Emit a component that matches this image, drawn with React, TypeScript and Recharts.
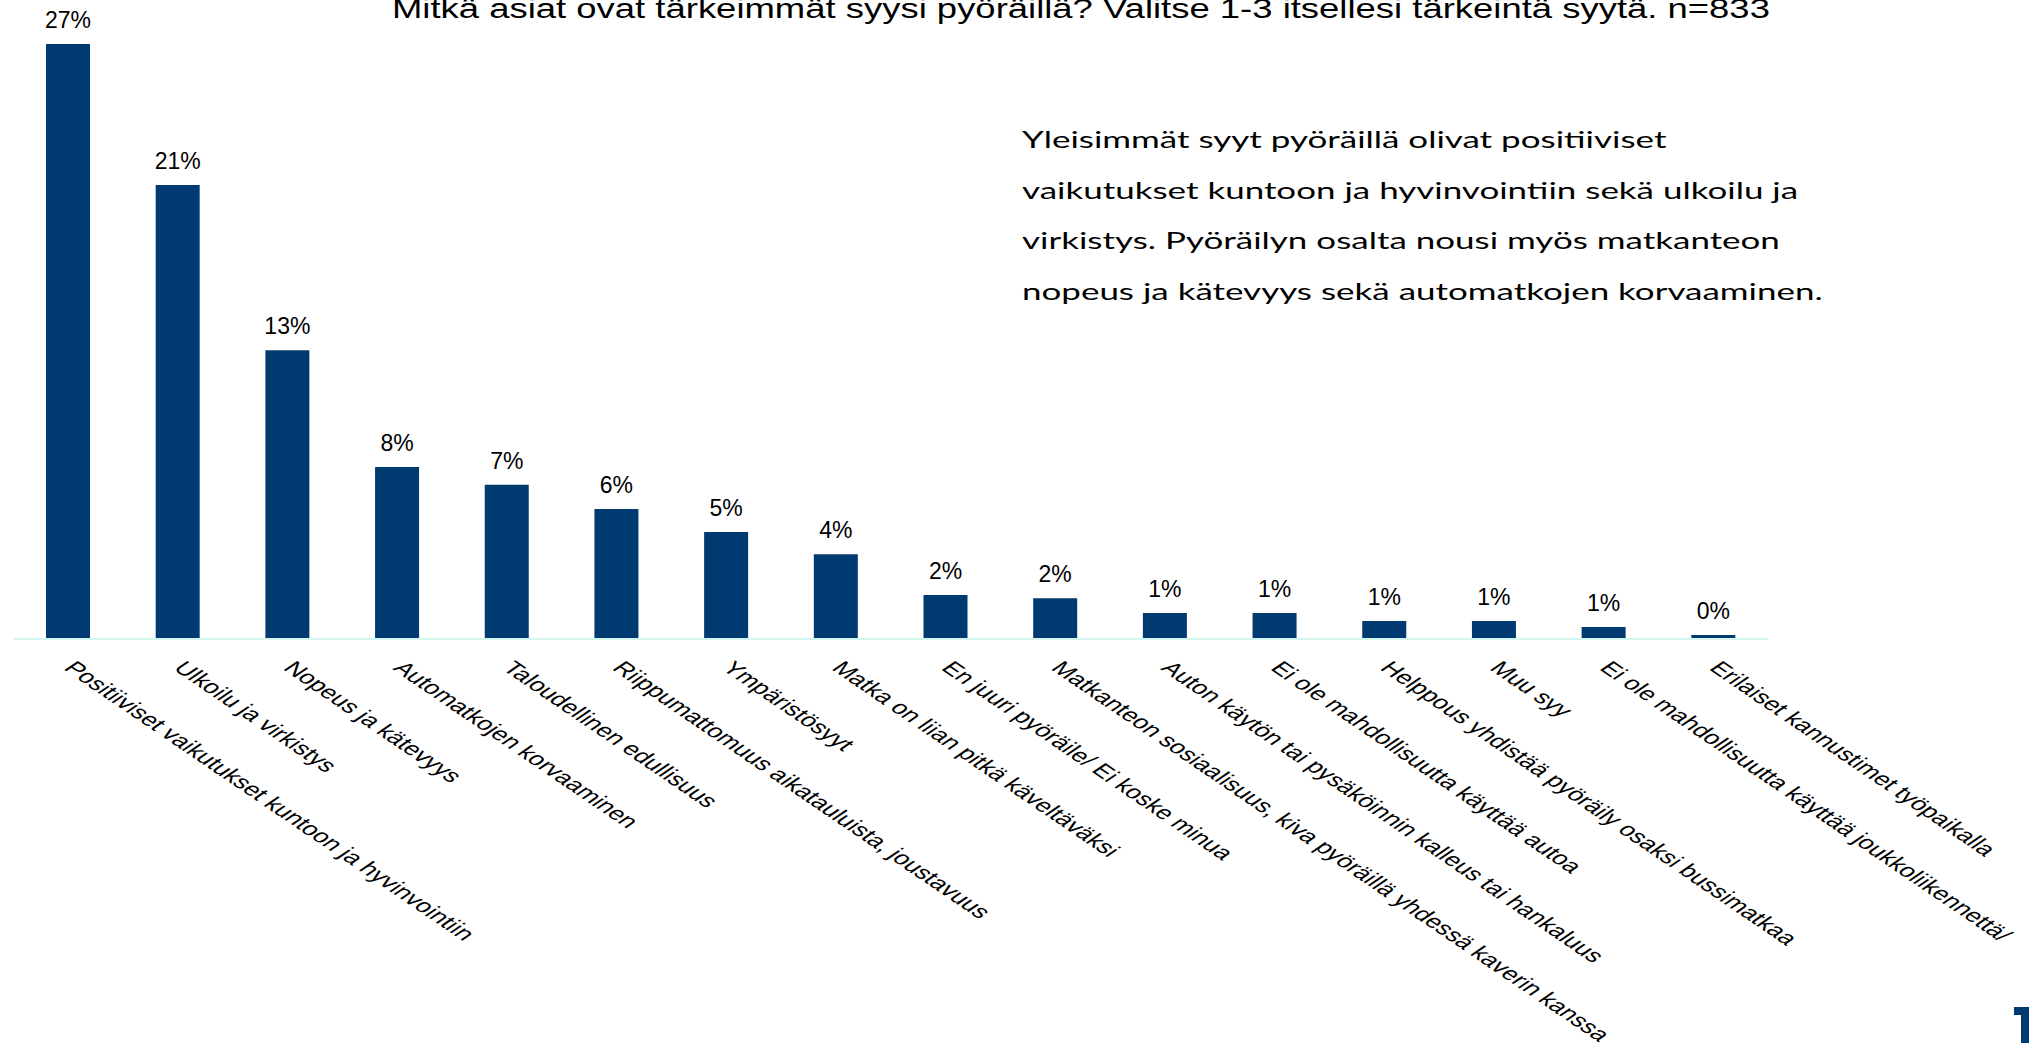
import { BarChart, Bar, XAxis, YAxis, LabelList } from "recharts"

const reasons = [
  "Positiiviset vaikutukset kuntoon ja hyvinvointiin",
  "Ulkoilu ja virkistys",
  "Nopeus ja kätevyys",
  "Automatkojen korvaaminen",
  "Taloudellinen edullisuus",
  "Riippumattomuus aikatauluista, joustavuus",
  "Ympäristösyyt",
  "Matka on liian pitkä käveltäväksi",
  "En juuri pyöräile/ Ei koske minua",
  "Matkanteon sosiaalisuus, kiva pyöräillä yhdessä kaverin kanssa",
  "Auton käytön tai pysäköinnin kalleus tai hankaluus",
  "Ei ole mahdollisuutta käyttää autoa",
  "Helppous yhdistää pyöräily osaksi bussimatkaa",
  "Muu syy",
  "Ei ole mahdollisuutta käyttää joukkoliikennettä/",
  "Erilaiset kannustimet työpaikalla",
]

// share of respondents, %
const shares = [27, 20.6, 13.1, 7.8, 7.0, 5.9, 4.85, 3.85, 2.0, 1.85, 1.18, 1.18, 0.82, 0.82, 0.54, 0.18]

const title = "Mitkä asiat ovat tärkeimmät syysi pyöräillä? Valitse 1-3 itsellesi tärkeintä syytä. n=833"

const note = [
  "Yleisimmät syyt pyöräillä olivat positiiviset",
  "vaikutukset kuntoon ja hyvinvointiin sekä ulkoilu ja",
  "virkistys. Pyöräilyn osalta nousi myös matkanteon",
  "nopeus ja kätevyys sekä automatkojen korvaaminen.",
]

const data = reasons.map((reason, i) => ({ reason, share: shares[i] }))

const arial = "'Liberation Sans', Arial, sans-serif"

// the source picture is stretched sideways, so 45° labels look flatter
function ReasonTick({ x, y, payload }: any) {
  const tx = x - 5
  const ty = y + 30
  return (
    <text
      transform={`translate(${tx}, ${ty}) scale(1.47, 1) rotate(45)`}
      textAnchor="start"
      fontSize={18.7}
      fontFamily={arial}
      fill="#000"
    >
      {payload.value}
    </text>
  )
}

export default function App() {
  return (
    <div style={{ position: "absolute", left: 0, top: 0, width: 2029, height: 1043, background: "#fff", overflow: "hidden" }}>
      <BarChart width={2029} height={1043} data={data} margin={{ top: 44, right: 261, left: 13, bottom: 0 }}>
        <YAxis hide domain={[0, 27]} />
        <XAxis
          dataKey="reason"
          height={404}
          interval={0}
          tickLine={false}
          tickSize={0}
          tickMargin={0}
          axisLine={{ stroke: "#d3f6ee", strokeWidth: 2 }}
          tick={<ReasonTick />}
        />
        <Bar dataKey="share" fill="#003a70" barSize={44} isAnimationActive={false}>
          <LabelList
            dataKey="share"
            position="top"
            offset={16}
            formatter={(v: any) => `${Math.round(v)}%`}
            style={{ fontSize: 23, fontFamily: arial, fill: "#000" }}
          />
        </Bar>
      </BarChart>

      <div
        style={{
          position: "absolute",
          left: 392,
          top: -4,
          fontFamily: arial,
          fontSize: 27,
          lineHeight: "27px",
          whiteSpace: "nowrap",
          color: "#000",
          transform: "scaleX(1.35)",
          transformOrigin: "0 0",
        }}
      >
        {title}
      </div>

      <div
        style={{
          position: "absolute",
          left: 1022,
          top: 114,
          fontFamily: "Lato, 'Open Sans', sans-serif",
          fontSize: 23,
          lineHeight: "50.5px",
          whiteSpace: "nowrap",
          color: "#000",
          transform: "scaleX(1.52)",
          transformOrigin: "0 0",
        }}
      >
        {note.map((line) => (
          <div key={line}>{line}</div>
        ))}
      </div>

      {/* corner logo, cut off by the page edge */}
      <div style={{ position: "absolute", left: 2014, top: 1007, width: 15, height: 8, background: "#003a70" }} />
      <div style={{ position: "absolute", left: 2021, top: 1007, width: 8, height: 36, background: "#003a70" }} />
    </div>
  )
}
